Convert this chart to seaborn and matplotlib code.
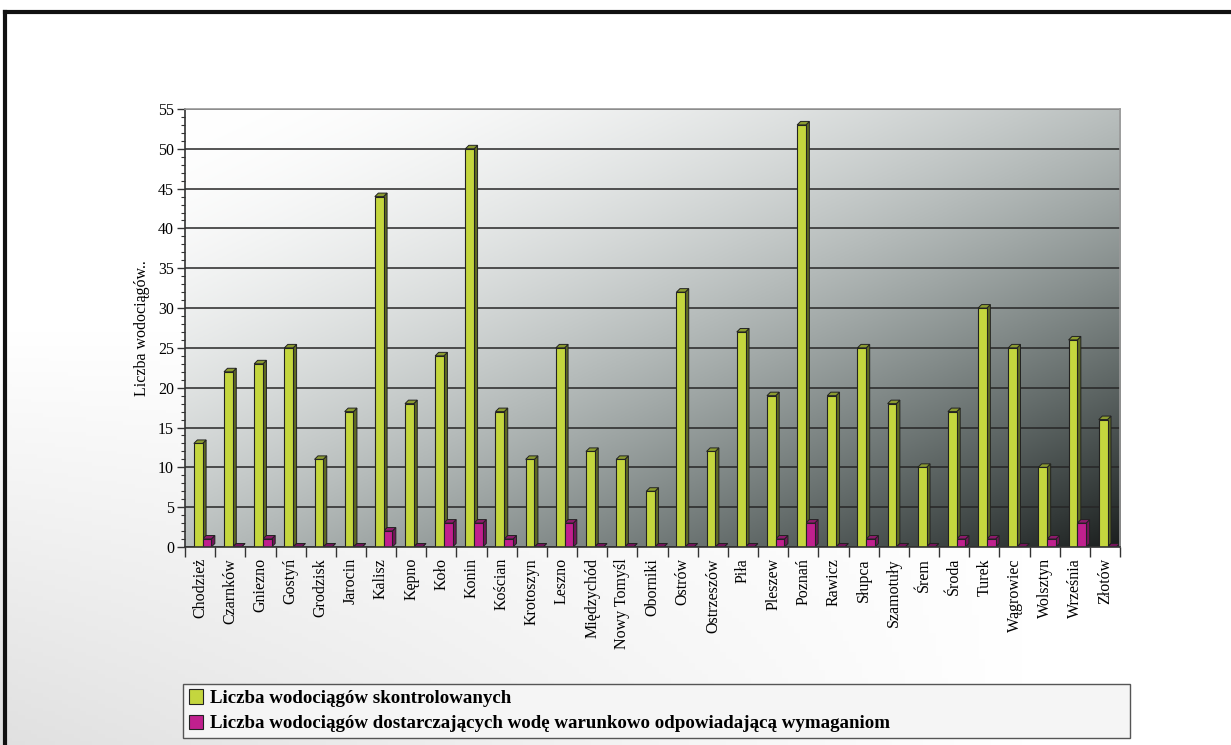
import numpy as np
import pandas as pd
import seaborn as sns
import matplotlib.pyplot as plt
import matplotlib.transforms as mtransforms
from matplotlib.patches import Polygon, Patch
from matplotlib.lines import Line2D
from matplotlib.ticker import MultipleLocator, FixedLocator

# dane
powiaty = ['Chodzież', 'Czarnków', 'Gniezno', 'Gostyń', 'Grodzisk', 'Jarocin', 'Kalisz',
           'Kępno', 'Koło', 'Konin', 'Kościan', 'Krotoszyn', 'Leszno', 'Międzychód',
           'Nowy Tomyśl', 'Oborniki', 'Ostrów', 'Ostrzeszów', 'Piła', 'Pleszew', 'Poznań',
           'Rawicz', 'Słupca', 'Szamotuły', 'Śrem', 'Środa', 'Turek', 'Wągrowiec',
           'Wolsztyn', 'Września', 'Złotów']
skontrolowane = [13, 22, 23, 25, 11, 17, 44, 18, 24, 50, 17, 11, 25, 12, 11, 7, 32, 12,
                 27, 19, 53, 19, 25, 18, 10, 17, 30, 25, 10, 26, 16]
warunkowo = [1, 0, 1, 0, 0, 0, 2, 0, 3, 3, 1, 0, 3, 0, 0, 0, 0, 0, 0, 1, 3, 0, 1, 0, 0,
             1, 1, 0, 1, 3, 0]
serie = ['Liczba wodociągów skontrolowanych',
         'Liczba wodociągów dostarczających wodę warunkowo odpowiadającą wymaganiom']

df = pd.DataFrame({
    'Powiat': powiaty * 2,
    'Liczba': skontrolowane + warunkowo,
    'Seria': [serie[0]] * len(powiaty) + [serie[1]] * len(powiaty),
})

green, magenta = '#c4d63e', '#c0208e'
green_side, magenta_side = '#5f6b22', '#74145a'
green_top, magenta_top = '#8c9c30', '#8e1a6c'

plt.rcParams['font.family'] = ['Liberation Serif', 'DejaVu Serif']

fig = plt.figure(figsize=(12.31, 7.45), dpi=100)

# tlo calej figury
bg = fig.add_axes([0, 0, 1, 1], zorder=-10)
u, v = np.meshgrid(np.linspace(0, 1, 200), np.linspace(1, 0, 200))
shade = 1 - 0.12 * np.clip(1 - u * 1.2, 0, 1) * np.clip(1 - v * 1.8, 0, 1)
bg.imshow(np.dstack([shade] * 3), extent=(0, 1, 0, 1), aspect='auto')
bg.set_xlim(0, 1)
bg.set_ylim(0, 1)
bg.axis('off')
bg.add_line(Line2D([0.004, 1], [0.984, 0.984], color='#111', lw=3))
bg.add_line(Line2D([0.004, 0.004], [0, 0.984], color='#111', lw=3))

ax = fig.add_axes([0.1503, 0.2658, 0.7596, 0.5879])

# gradient w obszarze wykresu
t = (u + (1 - v)) / 2
g = np.clip(1 - 0.88 * t ** 1.8, 0, 1)
img = np.dstack([g * (1 - 0.12 * t ** 2), g, g * (1 - 0.02 * t ** 2)])
ax.imshow(img, extent=(0, 1, 0, 1), transform=ax.transAxes, aspect='auto', zorder=0)

sns.barplot(data=df, x='Powiat', y='Liczba', hue='Seria', order=powiaty, hue_order=serie,
            palette=[green, magenta], saturation=1, width=0.58, edgecolor='#222',
            linewidth=0.8, legend=False, ax=ax, zorder=2)

ax.set_xlim(-0.5, len(powiaty) - 0.5)
ax.set_ylim(0, 55)

# efekt 3D: boki i wierzch slupkow (pod przednimi scianami), lekko przesuniete w prawo
dx = 3.5 * len(powiaty) / 935
dy = 3.5 * 55 / 438
shift = mtransforms.ScaledTranslation(2.5 / 100, 0, fig.dpi_scale_trans)
for p in list(ax.patches):
    x, y, w, h = p.get_x(), p.get_y(), p.get_width(), p.get_height()
    is_green = p.get_facecolor()[1] > 0.5
    side = green_side if is_green else magenta_side
    top = green_top if is_green else magenta_top
    p.set_transform(ax.transData + shift)
    for pts in ([(x + w, y), (x + w + dx, y + dy), (x + w + dx, y + h + dy), (x + w, y + h)],
                [(x, y + h), (x + dx, y + h + dy), (x + w + dx, y + h + dy), (x + w, y + h)]):
        ax.add_patch(Polygon(pts, closed=True, facecolor=side if pts[0][1] == y else top,
                             edgecolor='#222', lw=0.7, zorder=1.9,
                             transform=ax.transData + shift))

ax.set_axisbelow(True)
ax.yaxis.grid(True, color='#262626', lw=1.1, zorder=0.5)
ax.xaxis.grid(False)
ax.yaxis.set_major_locator(MultipleLocator(5))
ax.yaxis.set_minor_locator(MultipleLocator(1))
ax.xaxis.set_minor_locator(FixedLocator(np.arange(-0.5, len(powiaty), 1)))
ax.tick_params(axis='y', which='major', length=6, width=1, color='#333', labelsize=11.5, pad=2)
ax.tick_params(axis='y', which='minor', length=3, width=0.8, color='#333')
ax.tick_params(axis='x', which='major', length=0, labelsize=11.5, pad=8, labelrotation=90)
ax.tick_params(axis='x', which='minor', length=7, width=1, color='#333')

ax.set_xlabel('')
ax.set_ylabel('Liczba wodociągów..', fontsize=11.5, labelpad=6)

for s in ['left', 'bottom']:
    ax.spines[s].set_color('#333')
    ax.spines[s].set_linewidth(1.2)
for s in ['top', 'right']:
    ax.spines[s].set_color('#999')
    ax.spines[s].set_linewidth(1.2)

handles = [Patch(facecolor=green, edgecolor='#222', lw=0.8),
           Patch(facecolor=magenta, edgecolor='#222', lw=0.8)]
leg = fig.legend(handles, serie, loc='lower left', bbox_to_anchor=(0.1487, 0.0094, 0.769, 0.0886),
                 mode='expand', frameon=True, fancybox=False, edgecolor='#555',
                 facecolor='#f5f5f5', framealpha=1, handlelength=0.75, handleheight=0.8,
                 handletextpad=0.4, borderaxespad=0, labelspacing=0.4, borderpad=0.3,
                 prop={'weight': 'bold', 'size': 13.6})
leg.get_frame().set_linewidth(1)

fig.savefig('out.png', dpi=100)
